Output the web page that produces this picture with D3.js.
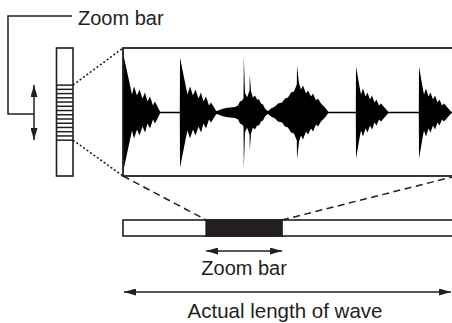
<!DOCTYPE html>
<html>
<head>
<meta charset="utf-8">
<script src="https://cdn.jsdelivr.net/npm/d3@7"></script>
<style>
  body { margin: 0; background: #fff; }
  svg { display: block; }
  text { font-family: "Liberation Sans", Arial, Helvetica, sans-serif; fill: #231f20; }
</style>
</head>
<body>
<svg width="452" height="323"></svg>
<script>
var width = 452, height = 323;
var ink = "#231f20";

// wave envelopes: [time, amplitude]
var burst1 = [[0.4,0],[0.6,57],[7.5,25],[9,18],[11,26],[14,17],[16.5,23],[19.5,14],[22,20],[24.5,11],[27,16],[30,7],[32,11],[37,1],[37.5,0]];
var burst2 = [[56.8,0],[57,55],[63,25],[64.5,18],[67,26],[70,17],[72.5,23],[75.5,14],[78,20],[80.5,11],[83,16],[86,7],[88,10],[93,2],[94,1.5],
  [99,3.5],[103,4.5],[107,5],[112,5.5],[115,7],[117,11],[119,12],[120.5,14],[120.8,56],[122,20],[124,15],[126.5,22],[126.8,38],[128,21],
  [130,15],[132,17],[134,13],[136,13],[138,9],[140,8],[142,4],[144,2],[145,1.5],
  [148,4],[152,6],[155,9],[159,10],[162,14],[165,15],[168,20],[171,21],[173.8,28],[174,47],[176,29],[178,23],[180,27],[183,19],
  [185,22],[188,16],[190,19],[193,12],[195,14],[198,9],[202,5],[205,1],[205.5,0]];
var burst3 = [[232.8,0],[233,46],[237,23],[238,18],[240,24],[242.5,16],[244.5,20],[247,13],[249,17],[251.5,10],[253.5,13],[256,7],[258,9],[265,1],[265.3,0]];
var burst4 = [[295.8,0],[296,46],[300,23],[301,18],[303,24],[305.5,16],[307.5,20],[310,13],[312,17],[314.5,10],[316.5,13],[319,7],[321,9],[328,1],[328.3,0]];
var bursts = [burst1, burst2, burst3, burst4];

// zoom window positions (percent of full length)
var fullLength = [0, 100];
var zoomWindow = [25.2, 48.2];
var vertWindow = [29, 72];
var labels = { zoomTop: "Zoom bar", zoomBottom: "Zoom bar", actual: "Actual length of wave" };

var svg = d3.select("svg");

var defs = svg.append("defs");
defs.append("marker")
    .attr("id", "head")
    .attr("viewBox", "0 0 12 7")
    .attr("refX", 12).attr("refY", 3.5)
    .attr("markerWidth", 12).attr("markerHeight", 7)
    .attr("markerUnits", "userSpaceOnUse")
    .attr("orient", "auto-start-reverse")
  .append("path")
    .attr("d", "M0,0L12,3.5L0,7Z")
    .attr("fill", ink);

// scales
var xWave = d3.scaleLinear().domain([0, 330]).range([123, 453]);
var yWave = d3.scaleLinear().domain([-64, 64]).range([176.5, 48.5]);
var xFull = d3.scaleLinear().domain(fullLength).range([123, 453]);
var yVert = d3.scaleLinear().domain(fullLength).range([48, 176]);

// wave box
var box = {x0: 123, x1: 460, y0: 48, y1: 176};
svg.append("rect")
    .attr("x", box.x0).attr("y", box.y0)
    .attr("width", box.x1 - box.x0).attr("height", box.y1 - box.y0)
    .attr("fill", "none").attr("stroke", ink).attr("stroke-width", 1.8);

svg.append("line")
    .attr("x1", xWave(0)).attr("x2", xWave(330))
    .attr("y1", yWave(0)).attr("y2", yWave(0))
    .attr("stroke", "#000").attr("stroke-width", 1.6);

var area = d3.area()
    .x(function(d) { return xWave(d[0]); })
    .y0(function(d) { return yWave(-d[1]); })
    .y1(function(d) { return yWave(d[1]); });

svg.selectAll(".burst").data(bursts).enter().append("path")
    .attr("class", "burst")
    .attr("d", area)
    .attr("fill", "#000");

// vertical zoom bar
var vbar = {x: 56.5, w: 16.5};
svg.append("rect")
    .attr("x", vbar.x).attr("y", yVert(0))
    .attr("width", vbar.w).attr("height", yVert(100) - yVert(0))
    .attr("fill", "#fff").attr("stroke", ink).attr("stroke-width", 1.6);

var stripes = d3.range(14).map(function(i) { return vertWindow[0] + i * (vertWindow[1] - vertWindow[0]) / 13; });
svg.selectAll(".stripe").data(stripes).enter().append("line")
    .attr("x1", vbar.x).attr("x2", vbar.x + vbar.w)
    .attr("y1", function(d) { return yVert(d); })
    .attr("y2", function(d) { return yVert(d); })
    .attr("stroke", ink).attr("stroke-width", 1.5);

// dotted connectors
[[vertWindow[0], 0], [vertWindow[1], 100]].forEach(function(p) {
  svg.append("line")
      .attr("x1", vbar.x + vbar.w).attr("y1", yVert(p[0]))
      .attr("x2", box.x0).attr("y2", yVert(p[1]))
      .attr("stroke", ink).attr("stroke-width", 1.6)
      .attr("stroke-dasharray", "2,2.2");
});

// bracket + up/down arrow
svg.append("path")
    .attr("d", "M72,16H8V114H34")
    .attr("fill", "none").attr("stroke", ink).attr("stroke-width", 1.5);
svg.append("line")
    .attr("x1", 34).attr("x2", 34).attr("y1", 85).attr("y2", 140)
    .attr("stroke", ink).attr("stroke-width", 1.5)
    .attr("marker-start", "url(#head)").attr("marker-end", "url(#head)");

svg.append("text").attr("x", 78).attr("y", 25)
    .attr("font-size", 20).text(labels.zoomTop);

// full-length bar
var bar = {y0: 220, y1: 236};
svg.append("rect")
    .attr("x", xFull(0)).attr("y", bar.y0)
    .attr("width", xFull(102) - xFull(0)).attr("height", bar.y1 - bar.y0)
    .attr("fill", "#fff").attr("stroke", ink).attr("stroke-width", 1.6);
svg.append("rect")
    .attr("x", xFull(zoomWindow[0])).attr("y", bar.y0)
    .attr("width", xFull(zoomWindow[1]) - xFull(zoomWindow[0])).attr("height", bar.y1 - bar.y0)
    .attr("fill", ink).attr("stroke", ink).attr("stroke-width", 1.6);

// dashed connectors
[[box.x0, zoomWindow[0]], [456, zoomWindow[1]]].forEach(function(p) {
  svg.append("line")
      .attr("x1", p[0]).attr("y1", box.y1)
      .attr("x2", xFull(p[1])).attr("y2", bar.y0)
      .attr("stroke", ink).attr("stroke-width", 1.5)
      .attr("stroke-dasharray", "7,4.5");
});

// zoom bar arrow
svg.append("line")
    .attr("x1", xFull(zoomWindow[0])).attr("x2", xFull(zoomWindow[1]))
    .attr("y1", 251).attr("y2", 251)
    .attr("stroke", ink).attr("stroke-width", 1.5)
    .attr("marker-start", "url(#head)").attr("marker-end", "url(#head)");
svg.append("text")
    .attr("x", (xFull(zoomWindow[0]) + xFull(zoomWindow[1])) / 2).attr("y", 275)
    .attr("text-anchor", "middle").attr("font-size", 20)
    .text(labels.zoomBottom);

// actual length arrow
svg.append("line")
    .attr("x1", 124).attr("x2", 451)
    .attr("y1", 292).attr("y2", 292)
    .attr("stroke", ink).attr("stroke-width", 1.5)
    .attr("marker-start", "url(#head)").attr("marker-end", "url(#head)");
svg.append("text")
    .attr("x", 285).attr("y", 318)
    .attr("text-anchor", "middle").attr("font-size", 20.5)
    .text(labels.actual);
</script>
</body>
</html>
